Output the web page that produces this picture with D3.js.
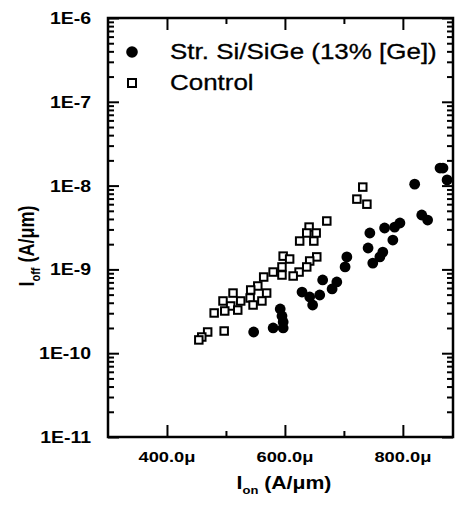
<!DOCTYPE html>
<html><head><meta charset="utf-8">
<script src="https://cdn.jsdelivr.net/npm/d3@7/dist/d3.min.js"></script>
<style>body{margin:0;background:#fff}svg{display:block}</style>
</head><body>
<svg id="c" width="455" height="510"></svg>
<script>
// Data (Ion in μA/μm, Ioff in A/μm)
const strainedIon  = [868,863,875,820,832,842,795,786,769,744,783,741,766,761,749,705,702,664,688,680,629,642,659,647,592,595,597,580,597,547];
const strainedIoff = [1.62e-8,1.62e-8,1.17e-8,1.04e-8,4.46e-9,3.88e-9,3.58e-9,3.2e-9,3.12e-9,2.72e-9,2.24e-9,1.80e-9,1.61e-9,1.41e-9,1.19e-9,1.41e-9,1.07e-9,7.48e-10,7.08e-10,5.84e-10,5.37e-10,4.69e-10,4.95e-10,3.76e-10,3.37e-10,2.78e-10,2.36e-10,2.0e-10,2.0e-10,1.79e-10];
const controlIon  = [732,722,739,671,641,637,653,625,649,597,608,654,642,595,637,580,595,624,614,564,554,542,569,541,561,546,512,525,495,508,520,498,480,497,469,459,454];
const controlIoff = [9.6e-9,6.9e-9,6.0e-9,3.78e-9,3.2e-9,2.72e-9,2.72e-9,2.18e-9,2.18e-9,1.44e-9,1.33e-9,1.41e-9,1.26e-9,1.07e-9,1.07e-9,9.3e-10,8.57e-10,9.3e-10,8.34e-10,8.11e-10,6.34e-10,5.68e-10,5.22e-10,4.56e-10,4.2e-10,3.76e-10,5.22e-10,4.2e-10,4.2e-10,3.66e-10,3.27e-10,3.19e-10,3.02e-10,1.84e-10,1.79e-10,1.56e-10,1.44e-10];
const seriesNames = ["Str. Si/SiGe (13% [Ge])","Control"];
const xMajorTicks = [400,600,800];
const xMinorTicks = [500,700];
const xTickLabels = ["400.0μ","600.0μ","800.0μ"];
const yMajorTicks = [1e-11,1e-10,1e-9,1e-8,1e-7,1e-6];
const yTickLabels = ["1E-11","1E-10","1E-9","1E-8","1E-7","1E-6"];

const svg = d3.select("#c");
const L=108, R=453, T=18, B=437;
const SX = 1.18; // horizontal stretch of scanned text
const x = d3.scaleLinear().domain([300,885]).range([L,R]);
const y = d3.scaleLog().domain([1e-11,1e-6]).range([B,T]);
const yMinor = [];
for (let d=-11; d<-6; d++) for (let k=2;k<=9;k++) yMinor.push(k*Math.pow(10,d));

const font = "'Liberation Sans', Arial, sans-serif";
function styleAxis(g){ g.select(".domain").remove(); g.selectAll("line").attr("stroke","#000").attr("stroke-width",2); }

// ticks
svg.append("g").attr("transform",`translate(${L},0)`).call(d3.axisLeft(y).tickValues(yMajorTicks).tickSize(-11).tickFormat("")).call(styleAxis);
svg.append("g").attr("transform",`translate(${L},0)`).call(d3.axisLeft(y).tickValues(yMinor).tickSize(-6).tickFormat("")).call(styleAxis);
svg.append("g").attr("transform",`translate(${R},0)`).call(d3.axisRight(y).tickValues(yMajorTicks).tickSize(-11).tickFormat("")).call(styleAxis);
svg.append("g").attr("transform",`translate(${R},0)`).call(d3.axisRight(y).tickValues(yMinor).tickSize(-6).tickFormat("")).call(styleAxis);
svg.append("g").attr("transform",`translate(0,${B})`).call(d3.axisBottom(x).tickValues(xMajorTicks).tickSize(-12).tickFormat("")).call(styleAxis);
svg.append("g").attr("transform",`translate(0,${B})`).call(d3.axisBottom(x).tickValues(xMinorTicks).tickSize(-6).tickFormat("")).call(styleAxis);
svg.append("g").attr("transform",`translate(0,${T})`).call(d3.axisTop(x).tickValues(xMajorTicks).tickSize(-12).tickFormat("")).call(styleAxis);
svg.append("g").attr("transform",`translate(0,${T})`).call(d3.axisTop(x).tickValues(xMinorTicks).tickSize(-6).tickFormat("")).call(styleAxis);

// frame
svg.append("rect").attr("x",L).attr("y",T).attr("width",R-L).attr("height",B-T)
  .attr("fill","none").attr("stroke","#000").attr("stroke-width",2.5);

// tick labels
svg.append("g").selectAll("text").data(yMajorTicks).join("text")
  .attr("transform",d=>`translate(91,${y(d)}) scale(${SX},1)`)
  .attr("text-anchor","end").attr("dy","0.36em")
  .attr("font-family",font).attr("font-weight","bold").attr("font-size",16.5)
  .text((d,i)=>yTickLabels[i]);
svg.append("g").selectAll("text").data(xMajorTicks).join("text")
  .attr("transform",d=>`translate(${x(d)},462) scale(${SX},1)`)
  .attr("text-anchor","middle")
  .attr("font-family",font).attr("font-weight","bold").attr("font-size",15.5)
  .text((d,i)=>xTickLabels[i]);

// axis titles
const xt = svg.append("text").attr("transform",`translate(284,489) scale(${SX},1)`)
  .attr("text-anchor","middle").attr("font-family",font).attr("font-size",18).attr("font-weight","bold");
xt.append("tspan").text("I");
xt.append("tspan").attr("font-size",11).attr("dy",5).text("on");
xt.append("tspan").attr("dy",-5).text(" (A/μm)");
const yt = svg.append("text").attr("transform",`translate(34,246) rotate(-90) scale(1,${SX})`)
  .attr("text-anchor","middle").attr("font-family",font).attr("font-size",18).attr("font-weight","bold");
yt.append("tspan").text("I");
yt.append("tspan").attr("font-size",11).attr("dy",5).text("off");
yt.append("tspan").attr("dy",-5).text(" (A/μm)");

// points
const strained = strainedIon.map((v,i)=>({x:v,y:strainedIoff[i]}));
const control = controlIon.map((v,i)=>({x:v,y:controlIoff[i]}));
const S=7.5;
svg.append("g").selectAll("rect").data(control).join("rect")
  .attr("x",d=>x(d.x)-S/2).attr("y",d=>y(d.y)-S/2).attr("width",S).attr("height",S)
  .attr("fill","#fff").attr("stroke","#000").attr("stroke-width",2);
svg.append("g").selectAll("circle").data(strained).join("circle")
  .attr("cx",d=>x(d.x)).attr("cy",d=>y(d.y)).attr("r",5.4).attr("fill","#000");

// legend
svg.append("circle").attr("cx",132).attr("cy",52).attr("r",5.8).attr("fill","#000");
svg.append("rect").attr("x",128).attr("y",79).attr("width",8).attr("height",8).attr("fill","#fff").attr("stroke","#000").attr("stroke-width",2);
svg.append("text").attr("transform",`translate(170,59) scale(${SX},1)`).attr("font-family",font).attr("font-size",22)
  .attr("stroke","#000").attr("stroke-width",0.3).text(seriesNames[0]);
svg.append("text").attr("transform",`translate(170,90) scale(${SX},1)`).attr("font-family",font).attr("font-size",22)
  .attr("stroke","#000").attr("stroke-width",0.3).text(seriesNames[1]);
</script>
</body></html>
